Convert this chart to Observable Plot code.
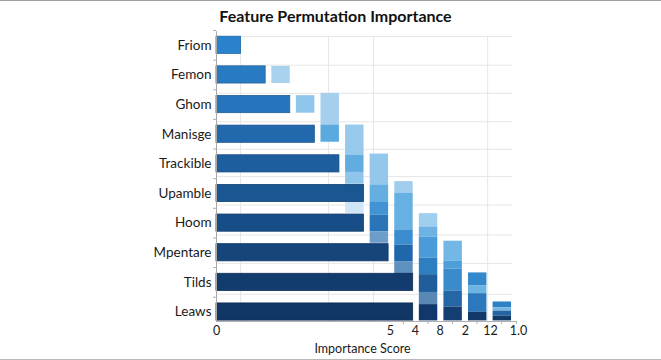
<!DOCTYPE html>
<html>
<head>
<meta charset="utf-8">
<script src="https://cdn.jsdelivr.net/npm/d3@7"></script>
<script src="https://cdn.jsdelivr.net/npm/@observablehq/plot@0.6"></script>
<style>
  html, body { margin: 0; padding: 0; background: #fff; }
  #chart {
    width: 661px; height: 360px; box-sizing: border-box; overflow: hidden;
    border-top: 1px solid #a0a0a0; border-bottom: 1px solid #b8b8b8;
    font-family: Lato, "Open Sans", sans-serif;
  }
  #title {
    height: 29px; line-height: 30px; text-align: center; padding-left: 10px;
    font-weight: 700; font-size: 16px; color: #111;
  }
  #chart svg { display: block; }
</style>
</head>
<body>
<div id="chart"><div id="title">Feature Permutation Importance</div></div>
<script>
// Features, top to bottom, and their importance scores
const features = ["Friom", "Femon", "Ghom", "Manisge", "Trackible", "Upamble", "Hoom", "Mpentare", "Tilds", "Leaws"];
const scores = [1, 2, 3, 4, 5, 6, 6, 7, 8, 8];
const barColors = ["#2a82cc", "#287bc3", "#2674bb", "#2169ac", "#1d5f9e", "#1a5692", "#184e87", "#15457b", "#123c6e", "#113767"];

// Permutation stacks: score where each stack sits, and its segments [fromRow, toRow, shade]
const stackAt = [2, 3, 4, 5, 6, 7, 8, 9, 10, 11];
const stackSegments = [
  [[0.71, 1.29, "#a9d2ef"]],
  [[1.70, 2.29, "#8fc5ea"]],
  [[1.62, 2.69, "#a6cfee"], [2.69, 3.27, "#5aa9df"]],
  [[2.69, 3.70, "#97c9ec"], [3.70, 4.29, "#62ade0"], [4.29, 4.69, "#8fc5ea"], [4.69, 5.67, "#d0e5f5"]],
  [[3.67, 4.71, "#93c7eb"], [4.71, 5.28, "#64aee0"], [5.28, 5.73, "#4293d3"], [5.73, 6.29, "#2a74b8"], [6.29, 6.68, "#6d9dc9"]],
  [[4.60, 5.00, "#a0cdec"], [5.00, 6.23, "#66b0e2"], [6.23, 6.74, "#3b8dd0"], [6.74, 7.30, "#1f66aa"], [7.30, 7.75, "#5e90c0"]],
  [[5.68, 6.13, "#9fceee"], [6.13, 6.47, "#6cb2e3"], [6.47, 7.18, "#4a9bd7"], [7.18, 7.74, "#2e7ec2"], [7.74, 8.34, "#1f5d9b"], [8.34, 8.75, "#5a88b5"], [8.75, 9.30, "#11386a"]],
  [[6.61, 7.29, "#72b7e5"], [7.29, 7.55, "#4e9fd9"], [7.55, 8.30, "#3a8acc"], [8.30, 8.83, "#2566a6"], [8.83, 9.30, "#143e71"]],
  [[7.68, 8.11, "#3489cc"], [8.11, 8.38, "#6db3e3"], [8.38, 9.01, "#2c78bc"], [9.01, 9.30, "#12396a"]],
  [[8.66, 8.86, "#3080c5"], [8.86, 8.97, "#74b7e4"], [8.97, 9.14, "#2464a4"], [9.14, 9.30, "#123968"]]
];

// Grid and axis ticks
const gridScores = [0.98, 4.56, 6.39, 11.03];
const gridRows = [-0.30, 0.67, 1.62, 2.58, 3.51, 4.43, 5.39, 6.40, 7.36, 8.40];
const tickLabels = ["0", "5", "4", "8", "2", "12", "1.0"];
const tickScores = [0, 7.07, 8.09, 9.1, 10.12, 11.14, 12.28];
const tickMarks = [7.6, 8.6, 9.6, 10.6, 11.6, 12.2];
const rowTicks = [-0.5, 0.5, 1.5, 2.5, 3.5, 4.5, 5.5, 6.5, 7.5, 8.5];

// Tables built from the arrays above
const bars = features.map((name, i) => ({name, row: i, score: scores[i], color: barColors[i]}));
const segments = stackAt.flatMap((s, k) =>
  stackSegments[k].map(([from, to, shade]) => ({start: s, from, to, shade}))
);

const half = 0.29;       // half bar thickness, in row units
const stackGap = 0.25;   // stack inset from its score position
const yEnd = 9.32;

const chart = Plot.plot({
  width: 661,
  height: 329,
  marginTop: 0,
  marginBottom: 38,
  marginLeft: 216,
  marginRight: 142,
  x: {domain: [0, 12.3], range: [216, 518.4]},
  y: {domain: [-0.5, yEnd], range: [0, 291]},
  color: {type: "identity"},
  style: {fontFamily: "Lato, 'Open Sans', sans-serif", fontSize: "13px", color: "#1a1a1a", background: "#fff"},
  marks: [
    Plot.ruleY(gridRows, {y: d => d, x1: 0, x2: 12.05, stroke: "#e6e6e6", strokeWidth: 1}),
    Plot.ruleX(gridScores, {x: d => d, y1: gridRows[0], y2: yEnd, stroke: "#e6e6e6", strokeWidth: 1}),
    Plot.rect(segments, {
      x1: d => d.start + stackGap, x2: d => d.start + 1,
      y1: "from", y2: "to", fill: "shade"
    }),
    Plot.rect(bars, {
      x1: 0, x2: "score",
      y1: d => d.row - half, y2: d => d.row + half,
      fill: "color",
      stroke: d => d3.color(d.color).darker(0.6).formatHex(),
      strokeWidth: 0.8
    }),
    Plot.ruleX([0], {y1: -0.46, y2: yEnd, stroke: "#a8a8a8"}),
    Plot.ruleY([yEnd], {x1: 0, x2: 12.25, stroke: "#b0b0b0"}),
    Plot.axisY(rowTicks, {anchor: "left", tickSize: 3, tickFormat: () => "", stroke: "#b0b0b0", label: null}),
    Plot.axisY(features.map((_, i) => i), {
      anchor: "left", tickSize: 0, tickPadding: 5, label: null,
      tickFormat: i => features[i], fontSize: 13.5
    }),
    Plot.axisX(tickMarks, {anchor: "bottom", tickSize: 3, tickFormat: () => "", stroke: "#b0b0b0", label: null}),
    Plot.axisX(tickScores, {
      anchor: "bottom", tickSize: 0, tickPadding: 5, label: null,
      tickFormat: (d, i) => tickLabels[i], fontSize: 12.5
    }),
    Plot.text(["Importance Score"], {
      frameAnchor: "bottom", lineAnchor: "middle", dy: 27, dx: -5.5, fontSize: 12.5, fill: "#1a1a1a"
    })
  ]
});

document.getElementById("chart").appendChild(chart);
</script>
</body>
</html>
